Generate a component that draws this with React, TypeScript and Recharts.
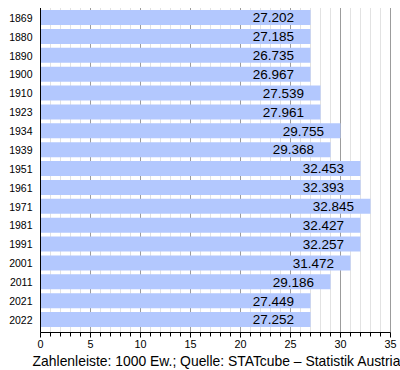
import React from 'react';
import { BarChart, Bar, XAxis, YAxis, CartesianGrid, LabelList } from 'recharts';

const years = ['1869', '1880', '1890', '1900', '1910', '1923', '1934', '1939', '1951', '1961', '1971', '1981', '1991', '2001', '2011', '2021', '2022'];
const population = [27.202, 27.185, 26.735, 26.967, 27.539, 27.961, 29.755, 29.368, 32.453, 32.393, 32.845, 32.427, 32.257, 31.472, 29.186, 27.449, 27.252];
const xTicks = [0, 1, 2, 3, 4, 5, 6, 7, 8, 9, 10, 11, 12, 13, 14, 15, 16, 17, 18, 19, 20, 21, 22, 23, 24, 25, 26, 27, 28, 29, 30, 31, 32, 33, 34, 35];
const caption = 'Zahlenleiste: 1000 Ew.; Quelle: STATcube – Statistik Austria';

// the source renderer draws bar lengths rounded to whole units
const data = years.map((year, i) => ({
  year,
  bar: Math.round(population[i]),
  label: population[i].toFixed(3),
}));

const FONT = '"Liberation Sans", Arial, sans-serif';
const BAR_COLOR = '#b3c8fe';
const MINOR_GRID = '#e2e2e2';
const MAJOR_GRID = '#9c9c9c';

const XTick = (props: any) => {
  const { x, y, payload } = props;
  const major = payload.value % 5 === 0;
  return (
    <g>
      <line x1={x} x2={x} y1={y} y2={y + (major ? 5 : 4)} stroke="#000" strokeWidth={1} />
      {major && (
        <text x={x} y={y + 15.3} textAnchor="middle" fontSize={10.8} fontFamily={FONT} fill="#000">
          {payload.value}
        </text>
      )}
    </g>
  );
};

const YTick = (props: any) => {
  const { x, y, payload } = props;
  return (
    <text x={x - 8} y={y + 4.3} textAnchor="end" fontSize={10.5} fontFamily={FONT} fill="#000">
      {payload.value}
    </text>
  );
};

const ValueLabel = (props: any) => {
  const { x, y, width, height, value } = props;
  return (
    <text x={x + width - 16.5} y={y + height / 2 + 4.8} textAnchor="end" fontSize={13.5} fontFamily={FONT} fill="#000">
      {value}
    </text>
  );
};

const CaptionLabel = (props: any) => {
  const vb = props.viewBox || {};
  return (
    <text x={vb.x + vb.width / 2 + 1} y={vb.y + 33} textAnchor="middle" fontSize={13.9} fontFamily={FONT} fill="#000">
      {caption}
    </text>
  );
};

const GridLine = (p: any) => {
  const v = xTicks[p.index];
  if (v === undefined) return <g key={p.key} />;
  const major = v % 5 === 0;
  return (
    <line
      key={p.key}
      x1={p.x1}
      x2={p.x2}
      y1={p.y1}
      y2={p.y2}
      stroke={major ? MAJOR_GRID : MINOR_GRID}
      strokeWidth={1}
      fill="none"
    />
  );
};

export default function App() {
  return (
    <div style={{ position: 'absolute', left: 0, top: 0, width: 400, height: 370, background: '#fff' }}>
      <BarChart
        width={400}
        height={370}
        data={data}
        layout="vertical"
        margin={{ top: 8, right: 9.5, bottom: 0, left: 0 }}
      >
        <CartesianGrid horizontal={false} vertical={GridLine} />
        <XAxis
          type="number"
          domain={[0, 35]}
          ticks={xTicks}
          interval={0}
          height={37.5}
          tickSize={0}
          tickMargin={0}
          tickLine={false}
          axisLine={{ stroke: '#000', strokeWidth: 1 }}
          tick={<XTick />}
          label={<CaptionLabel />}
        />
        <YAxis
          type="category"
          dataKey="year"
          width={40.5}
          interval={0}
          tickSize={0}
          tickMargin={0}
          tickLine={false}
          axisLine={{ stroke: '#000', strokeWidth: 1 }}
          tick={<YTick />}
          padding={{ top: 0, bottom: 3.5 }}
        />
        <Bar dataKey="bar" fill={BAR_COLOR} barSize={15} isAnimationActive={false}>
          <LabelList dataKey="label" content={<ValueLabel />} />
        </Bar>
      </BarChart>
    </div>
  );
}
